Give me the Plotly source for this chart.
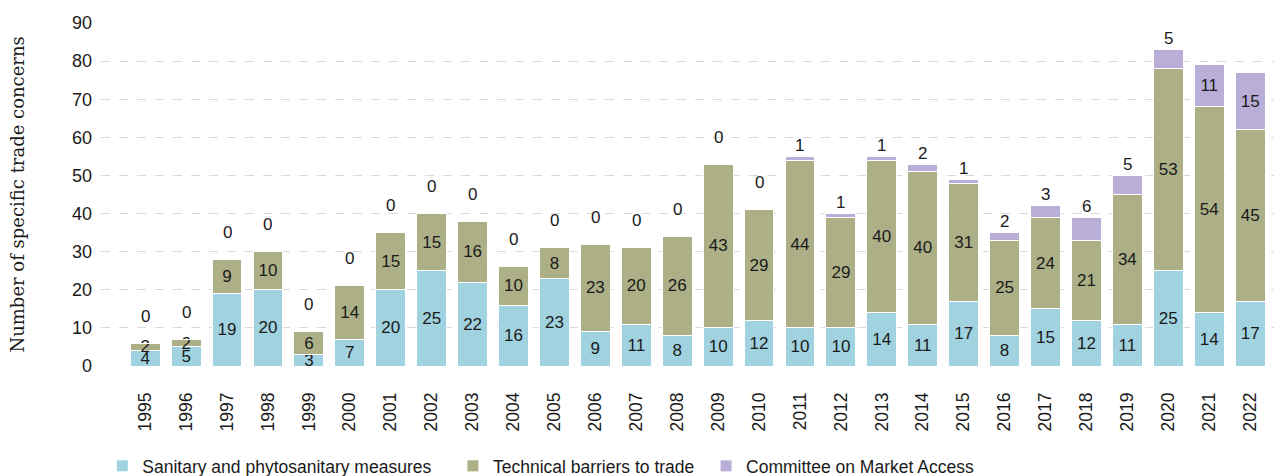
import plotly.graph_objects as go

years = list(range(1995, 2023))
sps = [4, 5, 19, 20, 3, 7, 20, 25, 22, 16, 23, 9, 11, 8, 10, 12, 10, 10, 14, 11, 17, 8, 15, 12, 11, 25, 14, 17]
tbt = [2, 2, 9, 10, 6, 14, 15, 15, 16, 10, 8, 23, 20, 26, 43, 29, 44, 29, 40, 40, 31, 25, 24, 21, 34, 53, 54, 45]
cma = [0, 0, 0, 0, 0, 0, 0, 0, 0, 0, 0, 0, 0, 0, 0, 0, 1, 1, 1, 2, 1, 2, 3, 6, 5, 5, 11, 15]
tick_labels = [str(y) for y in years]
names = ["Sanitary and phytosanitary measures", "Technical barriers to trade", "Committee on Market Access"]
colors = ["#a0d2df", "#adb086", "#b8aed7"]
legend_ids = ["legend", "legend2", "legend3"]
legend_x = [0.0011, 0.2985, 0.5132]

font_main = "Liberation Sans, Arial, sans-serif"
txt_color = "#1a1a1a"
fig = go.Figure()
for vals, name, col, lg in zip([sps, tbt, cma], names, colors, legend_ids):
    labels = [str(v) for v in vals] if vals is not cma else [str(v) if v >= 10 else "" for v in vals]
    fig.add_trace(go.Bar(
        x=years, y=vals, name=name, legend=lg, showlegend=True,
        marker=dict(color=col, line=dict(color="white", width=1)),
        text=labels, textposition="inside", insidetextanchor="middle",
        textangle=0, constraintext="none",
        textfont=dict(color=txt_color, size=17, family=font_main),
    ))

for y, s, t, c in zip(years, sps, tbt, cma):
    if c < 10:
        fig.add_annotation(x=y, y=s + t + c, text=str(c), showarrow=False,
                           yanchor="middle", yshift=27 if c == 0 else 11,
                           font=dict(color=txt_color, size=17, family=font_main))

fig.add_annotation(xref="paper", yref="paper", x=-0.0712, y=0.5, xanchor="center", yanchor="middle",
                   text="Number of specific trade concerns", textangle=-90, showarrow=False,
                   font=dict(family="DejaVu Serif, serif", size=18, color=txt_color))

leg_common = dict(orientation="h", yanchor="middle", y=-0.2915, xanchor="left",
                  font=dict(size=17.5, family=font_main, color=txt_color),
                  bgcolor="rgba(0,0,0,0)")
fig.update_layout(
    showlegend=True,
    barmode="stack", bargap=0.27,
    width=1274, height=468,
    margin=dict(l=93, r=2, t=15, b=110, autoexpand=False),
    plot_bgcolor="white", paper_bgcolor="white",
    font=dict(family=font_main, color=txt_color),
    legend=dict(x=legend_x[0], **leg_common),
    legend2=dict(x=legend_x[1], **leg_common),
    legend3=dict(x=legend_x[2], **leg_common),
    yaxis=dict(range=[0, 90], dtick=10, showgrid=True, gridcolor="#d9d9d9", griddash="dash",
               zeroline=False, tickfont=dict(size=18), ticks="", ticklabelstandoff=8,
               automargin=False),
    xaxis=dict(tickvals=years, ticktext=tick_labels, tickangle=-90, range=[1993.92, 2022.73],
               tickfont=dict(size=17.5), showgrid=False, zeroline=False, ticks="",
               ticklabelstandoff=22, automargin=False),
)
fig.write_html("out.html")
